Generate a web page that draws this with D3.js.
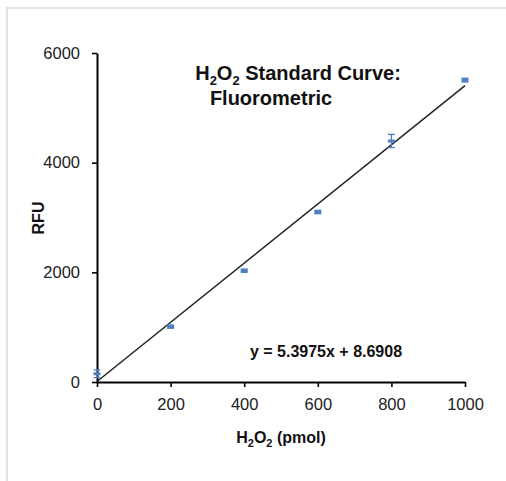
<!DOCTYPE html>
<html><head><meta charset="utf-8">
<script src="https://cdn.jsdelivr.net/npm/d3@7"></script>
<style>body{margin:0;background:#fff}svg{display:block}text{font-family:"Liberation Sans",Arial,sans-serif}</style>
</head><body>
<script>
const amounts = [0, 200, 400, 600, 800, 1000];
const rfu = [150, 1010, 2030, 3100, 4395, 5505];
const rfuErr = [70, 30, 30, 30, 120, 35];
const xTicks = [0, 200, 400, 600, 800, 1000];
const yTicks = [0, 2000, 4000, 6000];
const slope = 5.3975, intercept = 8.6908;

const W = 506, H = 481;
const svg = d3.select("body").append("svg").attr("width", W).attr("height", H);

// frame
svg.append("path").attr("d", `M7,${H} V8 H${W}`).attr("fill","none").attr("stroke","#e3e3e3").attr("stroke-width",2);

const x = d3.scaleLinear().domain([0,1000]).range([97,465]);
const y = d3.scaleLinear().domain([0,6000]).range([382,53]);

const xAxis = svg.append("g").attr("transform","translate(0,382)")
  .call(d3.axisBottom(x).tickValues(xTicks).tickFormat(d3.format("d")).tickSize(5).tickPadding(10).tickSizeOuter(0));
const yAxis = svg.append("g").attr("transform","translate(97,0)")
  .call(d3.axisLeft(y).tickValues(yTicks).tickFormat(d3.format("d")).tickSize(5).tickPadding(9).tickSizeOuter(0));
[xAxis,yAxis].forEach(g=>{
  g.attr("font-size",null).attr("font-family",null);
  g.select(".domain").attr("stroke","#000").attr("stroke-width",2);
  g.selectAll(".tick line").attr("stroke","#000").attr("stroke-width",1.6);
  g.selectAll(".tick text").style("font-size","16.5px").attr("fill","#222");
});
xAxis.selectAll(".tick text").attr("dy","0.78em");
yAxis.selectAll(".tick text").attr("dx","-3");

// trend line
svg.append("line")
  .attr("x1", x(0)).attr("y1", y(slope*0+intercept))
  .attr("x2", x(1000)).attr("y2", y(slope*1000+intercept))
  .attr("stroke","#222").attr("stroke-width",1.5);

// error bars and markers
const col = "#4f7fbf";
const pts = amounts.map((a,i)=>({a, v:rfu[i], e:rfuErr[i]}));
const eb = svg.append("g").attr("stroke",col).attr("stroke-width",1.3);
pts.forEach(p=>{
  eb.append("line").attr("x1",x(p.a)).attr("x2",x(p.a)).attr("y1",y(p.v-p.e)).attr("y2",y(p.v+p.e));
  eb.append("line").attr("x1",x(p.a)-3.5).attr("x2",x(p.a)+3.5).attr("y1",y(p.v-p.e)).attr("y2",y(p.v-p.e));
  eb.append("line").attr("x1",x(p.a)-3.5).attr("x2",x(p.a)+3.5).attr("y1",y(p.v+p.e)).attr("y2",y(p.v+p.e));
});
svg.append("g").selectAll("rect").data(pts).join("rect")
  .attr("x",d=>x(d.a)-3.5).attr("y",d=>y(d.v)-1.5).attr("width",7).attr("height",3).attr("fill",col);

// title
const t = svg.append("text").attr("x",298).attr("y",80).attr("text-anchor","middle")
  .style("font-size","20px").attr("font-weight","bold").attr("fill","#111");
t.append("tspan").text("H");
t.append("tspan").text("2").style("font-size","13px").attr("dy",5);
t.append("tspan").text("O").attr("dy",-5);
t.append("tspan").text("2").style("font-size","13px").attr("dy",5);
t.append("tspan").text(" Standard Curve:").attr("dy",-5);
svg.append("text").attr("x",271).attr("y",105).attr("text-anchor","middle")
  .style("font-size","20px").attr("font-weight","bold").attr("fill","#111").text("Fluorometric");

// equation
svg.append("text").attr("x",326).attr("y",357).attr("text-anchor","middle")
  .style("font-size","16px").attr("font-weight","bold").attr("fill","#111").text("y = 5.3975x + 8.6908");

// axis titles
const xt = svg.append("text").attr("x",281).attr("y",443).attr("text-anchor","middle")
  .style("font-size","16px").attr("font-weight","bold").attr("fill","#111");
xt.append("tspan").text("H");
xt.append("tspan").text("2").style("font-size","11px").attr("dy",4);
xt.append("tspan").text("O").attr("dy",-4);
xt.append("tspan").text("2").style("font-size","11px").attr("dy",4);
xt.append("tspan").text(" (pmol)").attr("dy",-4);

svg.append("text").attr("transform","translate(44,218) rotate(-90)").attr("text-anchor","middle")
  .style("font-size","16px").attr("font-weight","bold").attr("fill","#111").text("RFU");
</script>
</body></html>
